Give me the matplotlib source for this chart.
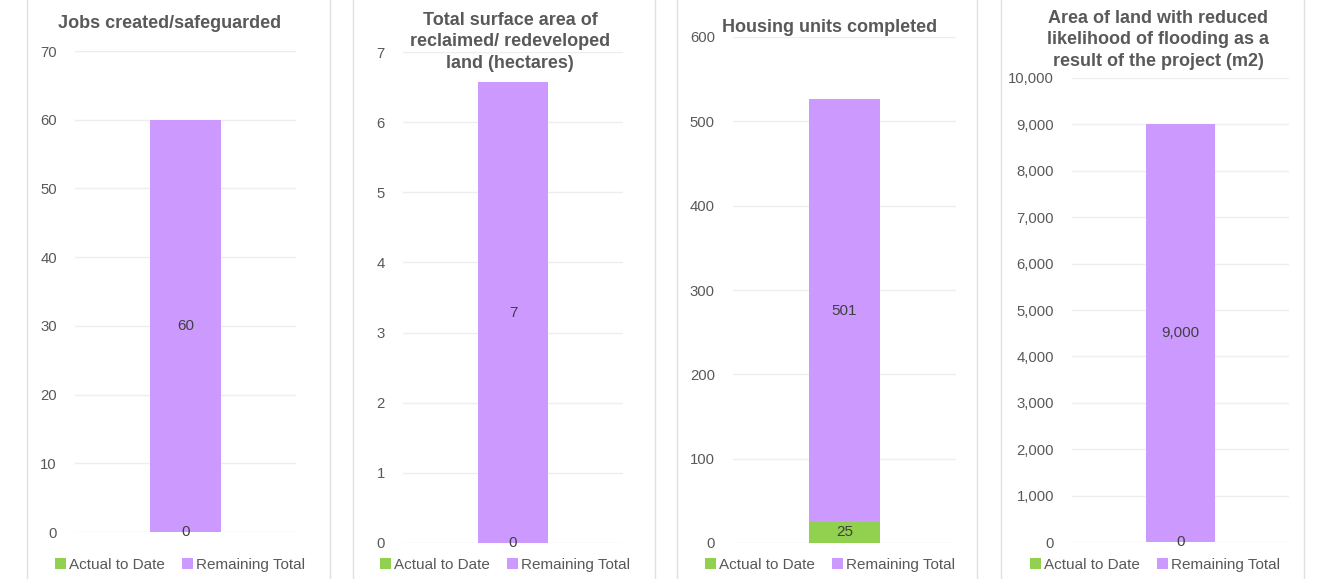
import matplotlib
matplotlib.use("Agg")
import matplotlib.pyplot as plt
from matplotlib.lines import Line2D
from matplotlib.ticker import FuncFormatter

plt.rcParams['font.family'] = ['Liberation Sans', 'DejaVu Sans']

# data
titles = ["Jobs created/safeguarded",
          "Total surface area of\nreclaimed/ redeveloped\nland (hectares)",
          "Housing units completed",
          "Area of land with reduced\nlikelihood of flooding as a\nresult of the project (m2)"]
actual = [0, 0, 25, 0]
remaining = [60, 6.57, 501, 9000]
ymax = [70, 7, 600, 10000]
ystep = [10, 1, 100, 1000]
series = ["Actual to Date", "Remaining Total"]

GREEN = "#92d050"
PURPLE = "#cc99ff"
TXT = "#595959"

W, H = 1319, 579
fig = plt.figure(figsize=(W / 100, H / 100), dpi=100)

# pixel layout: (x0, x1, ytop, ybottom) for plot areas
areas = [(75, 296, 51, 532), (403, 623, 52, 543), (733, 956, 37, 543), (1072, 1289, 78, 542)]
borders = [(27, 330), (353, 655), (677, 977), (1001, 1304)]
title_pos = [(170, 23), (510, 42), (830, 28), (1158, 40)]
legend_x = [180, 505, 830, 1155]

for bx0, bx1 in borders:
    for bx in (bx0, bx1):
        fig.add_artist(Line2D([bx / W, bx / W], [0, 1], color="#e0e0e0", lw=1))

for i in range(4):
    x0, x1, yt, yb = areas[i]
    ax = fig.add_axes([x0 / W, 1 - yb / H, (x1 - x0) / W, (yb - yt) / H])
    b1 = ax.bar([0], [actual[i]], width=0.317, color=GREEN, label=series[0])
    b2 = ax.bar([0], [remaining[i]], bottom=[actual[i]], width=0.317, color=PURPLE, label=series[1])
    ax.set_xlim(-0.5, 0.5)
    ax.set_ylim(0, ymax[i])
    ax.set_yticks([ystep[i] * k for k in range(ymax[i] // ystep[i] + 1)])
    ax.yaxis.set_major_formatter(FuncFormatter(lambda v, p: f"{v:,.0f}"))
    ax.set_xticks([])
    for s in ax.spines.values():
        s.set_visible(False)
    ax.grid(axis='y', color="#eeeeee", lw=1)
    ax.set_axisbelow(True)
    ax.tick_params(axis='y', length=0, pad=13, labelsize=10.7, labelcolor=TXT)
    fmt = lambda v: f"{v:,.0f}"
    if actual[i] > 0:
        ax.bar_label(b1, labels=[fmt(actual[i])], label_type='center', fontsize=11, color="#404040")
    else:
        ax.text(0, 0, "0", ha='center', va='center', fontsize=11, color="#404040")
    ax.bar_label(b2, labels=[fmt(remaining[i])], label_type='center', fontsize=11, color="#404040")

    tx, ty = title_pos[i]
    fig.text(tx / W, 1 - ty / H, titles[i], ha='center', va='center', fontsize=13,
             fontweight='bold', color=TXT, linespacing=1.33)

    ax.legend(loc='center', bbox_to_anchor=(legend_x[i] / W, 1 - 565 / H),
              bbox_transform=fig.transFigure, ncol=2, frameon=False, fontsize=11,
              handlelength=0.7, handleheight=0.7, handletextpad=0.2, columnspacing=1.1,
              labelcolor=TXT)

fig.savefig("out.png", dpi=100)
